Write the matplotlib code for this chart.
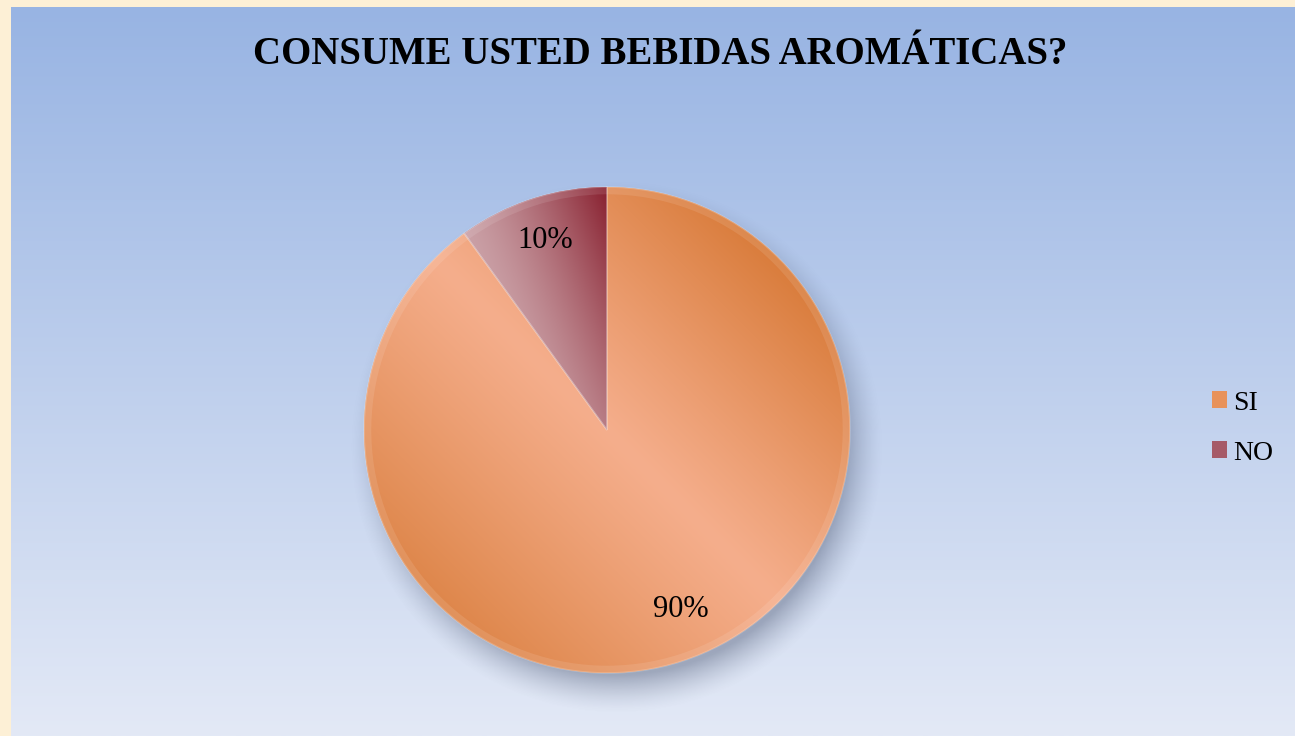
import matplotlib.pyplot as plt
import numpy as np
from matplotlib.colors import to_rgb, LinearSegmentedColormap
from matplotlib.patches import Wedge

categorias = ["SI", "NO"]
valores = [90, 10]
titulo = "CONSUME USTED BEBIDAS AROMÁTICAS?"
colores_base = ["#e8925a", "#a65a68"]

W, H = 1295, 736
fig = plt.figure(figsize=(W / 100, H / 100), dpi=100)
fig.patch.set_facecolor("#fdf0d6")

# fondo degradado azul
ax_bg = fig.add_axes([11 / W, 0, 1 - 11 / W, 1 - 7 / H])
grad = np.linspace(0, 1, 256)[:, None]
cmap_bg = LinearSegmentedColormap.from_list("bg", ["#98b4e3", "#e3e9f6"])
ax_bg.imshow(grad, aspect="auto", cmap=cmap_bg, extent=[0, 1, 0, 1], origin="upper")
ax_bg.axis("off")

fig.text(660 / W, 1 - 55 / H, titulo, ha="center", va="center",
         fontsize=28, fontweight="bold", family="Liberation Serif")

# ejes del pastel
cx, cy, R, L = 607, 430, 243, 1.25
half = L * R
ax = fig.add_axes([(cx - half) / W, (H - cy - half) / H, 2 * half / W, 2 * half / H])

wedges, texts, autotexts = ax.pie(
    valores,
    colors=colores_base,
    startangle=90,
    counterclock=False,
    autopct="%1.0f%%",
    pctdistance=0.82,
    wedgeprops=dict(linewidth=0),
    textprops=dict(family="Liberation Serif", fontsize=22, color="black"),
)
ax.set_xlim(-L, L)
ax.set_ylim(-L, L)
ax.set_aspect("equal")
ax.axis("off")

# etiqueta del 90% un poco desplazada, como en el original
x90, y90 = autotexts[0].get_position()
autotexts[0].set_position((x90 + 0.05, y90 + 0.04))

# sombra
n = 500
xs = np.linspace(-L, L, n)
X, Y = np.meshgrid(xs, xs[::-1])
d = np.hypot(X - 0.04, Y + 0.07)
alpha = 0.42 * np.clip((1.10 - d) / 0.16, 0, 1) ** 1.5
sombra = np.zeros((n, n, 4))
sombra[..., :3] = to_rgb("#4a5570")
sombra[..., 3] = alpha
ax.imshow(sombra, extent=[-L, L, -L, L], origin="upper", zorder=0)

# degradados de las porciones
light_si, dark_si1, dark_si2 = [np.array(to_rgb(c)) for c in ("#f5ae8c", "#d97c3b", "#de864a")]
t = (X + Y) / np.sqrt(2)
f = np.clip(np.abs(t), 0, 1) ** 1.1
dark = np.where(t[..., None] > 0, dark_si1, dark_si2)
img_si = light_si * (1 - f[..., None]) + dark * f[..., None]
im = ax.imshow(img_si, extent=[-L, L, -L, L], origin="upper", zorder=2)
im.set_clip_path(wedges[0])

light_no, dark_no = np.array(to_rgb("#caa0a6")), np.array(to_rgb("#88202f"))
s = X * 0.93 + Y * 0.37
g = np.clip((s + 0.25) / 0.62, 0, 1) ** 1.4
img_no = light_no * (1 - g[..., None]) + dark_no * g[..., None]
im = ax.imshow(img_no, extent=[-L, L, -L, L], origin="upper", zorder=2)
im.set_clip_path(wedges[1])

# bisel
for w in wedges:
    ax.add_patch(Wedge(w.center, w.r, w.theta1, w.theta2, width=0.03,
                       facecolor="white", alpha=0.10, linewidth=0, zorder=3))
    ax.add_patch(Wedge(w.center, w.r, w.theta1, w.theta2, fill=False,
                       edgecolor="white", alpha=0.2, linewidth=1.2, zorder=3))

for tx in autotexts:
    tx.set_zorder(5)

ax.legend(wedges, categorias, loc="center left",
          bbox_to_anchor=(1212 / W, 1 - 428 / H), bbox_transform=fig.transFigure,
          frameon=False, prop=dict(family="Liberation Serif", size=20),
          borderpad=0, borderaxespad=0,
          handlelength=0.55, handleheight=0.55, handletextpad=0.2, labelspacing=0.9)

fig.savefig("out.png", dpi=100)
